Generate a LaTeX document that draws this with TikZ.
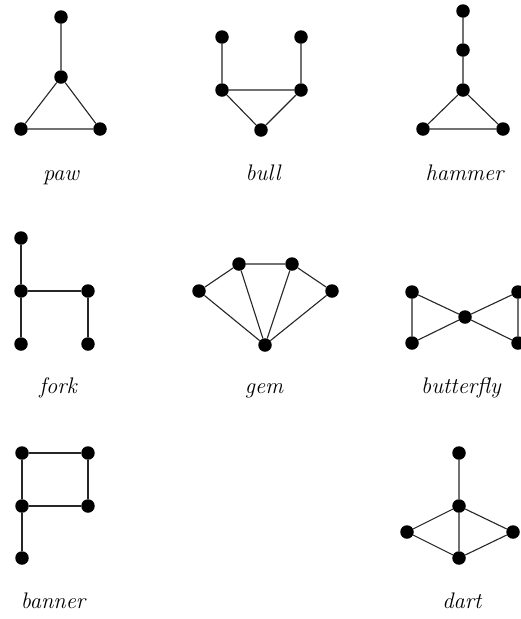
\documentclass[tikz,border=0pt]{standalone}
\begin{document}
\begin{tikzpicture}[x=1pt,y=-1pt,
  vtx/.style={circle,fill=black,inner sep=0pt,minimum size=13.5pt},
  edge/.style={draw=black!85,line width=1.1pt},
  gname/.style={font=\fontsize{22.5}{26}\selectfont\itshape,anchor=base,inner sep=0pt}]
\useasboundingbox[fill=white] (0,0) rectangle (521,619);

% paw
\node[vtx] (p1) at (61,17) {};
\node[vtx] (p2) at (61,77) {};
\node[vtx] (p3) at (21,129) {};
\node[vtx] (p4) at (100,129) {};
\draw[edge] (p1) -- (p2) (p2) -- (p3) (p2) -- (p4) (p3) -- (p4);
\node[gname] (lpaw) at (61,180) {paw};

% bull
\node[vtx] (b1) at (222,37) {};
\node[vtx] (b2) at (301,37) {};
\node[vtx] (b3) at (222,90) {};
\node[vtx] (b4) at (301,90) {};
\node[vtx] (b5) at (261,130) {};
\draw[edge] (b1) -- (b3) (b2) -- (b4) (b3) -- (b4) (b3) -- (b5) (b4) -- (b5);
\node[gname] (lbull) at (263,180) {bull};

% hammer
\node[vtx] (h1) at (463,11) {};
\node[vtx] (h2) at (463,50) {};
\node[vtx] (h3) at (463,90) {};
\node[vtx] (h4) at (423,129) {};
\node[vtx] (h5) at (503,129) {};
\draw[edge] (h1) -- (h2) (h2) -- (h3) (h3) -- (h4) (h3) -- (h5) (h4) -- (h5);
\node[gname] (lhammer) at (464.5,180) {hammer};

% fork
\node[vtx] (f1) at (21,238) {};
\node[vtx] (f2) at (21,291) {};
\node[vtx] (f3) at (88,291) {};
\node[vtx] (f4) at (21,344) {};
\node[vtx] (f5) at (88,344) {};
\draw[edge] (f1) -- (f2) (f2) -- (f4) (f2) -- (f3) (f3) -- (f5);
\node[gname] (lfork) at (58,393) {fork};

% gem
\node[vtx] (g1) at (199,291) {};
\node[vtx] (g2) at (239,264) {};
\node[vtx] (g3) at (292,264) {};
\node[vtx] (g4) at (332,291) {};
\node[vtx] (g5) at (265,345) {};
\draw[edge] (g1) -- (g2) (g2) -- (g3) (g3) -- (g4)
  (g1) -- (g5) (g2) -- (g5) (g3) -- (g5) (g4) -- (g5);
\node[gname] (lgem) at (264,393) {gem};

% butterfly
\node[vtx] (y1) at (412,292) {};
\node[vtx] (y2) at (412,343) {};
\node[vtx] (y3) at (465,317) {};
\node[vtx] (y4) at (518,292) {};
\node[vtx] (y5) at (518,343) {};
\draw[edge] (y1) -- (y2) (y1) -- (y3) (y2) -- (y3)
  (y3) -- (y4) (y3) -- (y5) (y4) -- (y5);
\node[gname] (lbutterfly) at (461,393) {butterfly};

% banner
\node[vtx] (n1) at (22,453) {};
\node[vtx] (n2) at (88,453) {};
\node[vtx] (n3) at (22,506) {};
\node[vtx] (n4) at (88,506) {};
\node[vtx] (n5) at (22,558) {};
\draw[edge] (n1) -- (n2) (n2) -- (n4) (n4) -- (n3) (n3) -- (n1) (n3) -- (n5);
\node[gname] (lbanner) at (53,608) {banner};

% dart
\node[vtx] (d1) at (459,453) {};
\node[vtx] (d2) at (459,506) {};
\node[vtx] (d3) at (407,532) {};
\node[vtx] (d4) at (513,532) {};
\node[vtx] (d5) at (459,558) {};
\draw[edge] (d1) -- (d2) (d2) -- (d3) (d2) -- (d4) (d2) -- (d5)
  (d3) -- (d5) (d4) -- (d5);
\node[gname] (ldart) at (462,608) {dart};
\end{tikzpicture}
\end{document}
